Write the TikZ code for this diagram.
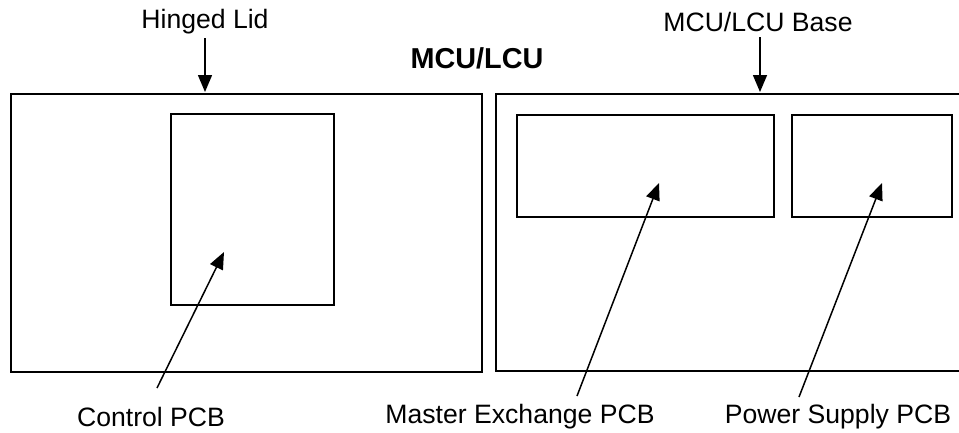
\documentclass[tikz,border=0pt]{standalone}
\usepackage{fontspec}
\setmainfont{Liberation Sans}
\usetikzlibrary{arrows.meta}
\begin{document}
\begin{tikzpicture}[x=1pt,y=-1pt,
  box/.style={draw=black,line width=2.2pt,inner sep=0pt,anchor=north west},
  lbl/.style={font=\fontsize{26.6}{32}\selectfont,inner sep=0pt},
  ttl/.style={font=\fontsize{28.8}{34}\selectfont\bfseries,inner sep=0pt},
  pointer/.style={line width=1.5pt,-{Triangle[width=14pt,length=17pt]}}]
\useasboundingbox (0,0) rectangle (959,432);
\begin{scope}
\clip (0,0) rectangle (959,432);
\node[box,minimum width=471pt,minimum height=278pt] (lid) at (10,93) {};
\node[box,minimum width=470pt,minimum height=277pt] (base) at (495,93) {};
\end{scope}
\node[box,minimum width=163pt,minimum height=191pt] (ctrl) at (170,113) {};
\node[box,minimum width=257pt,minimum height=102pt] (mex) at (516,114) {};
\node[box,minimum width=160pt,minimum height=102pt] (psu) at (791,114) {};
\node[lbl] (hl) at (205,22) {Hinged Lid};
\node[lbl] (bl) at (758,22) {MCU/LCU Base};
\node[ttl] (title) at (477,58) {MCU/LCU};
\node[lbl] (cl) at (151,417) {Control PCB};
\node[lbl] (ml) at (520,417) {Master Exchange PCB};
\node[lbl] (pl) at (838,417) {Power Supply PCB};
\coordinate (hls) at (205,38);
\coordinate (hlt) at (205,92);
\coordinate (bls) at (760,37);
\coordinate (blt) at (760,92);
\coordinate (cls) at (157,388);
\coordinate (clt) at (224,252);
\coordinate (mls) at (577,396);
\coordinate (mlt) at (659,183);
\coordinate (pls) at (799,397);
\coordinate (plt) at (882,183);
\draw[pointer] (hls) -- (hlt);
\draw[pointer] (bls) -- (blt);
\draw[pointer] (cls) -- (clt);
\draw[pointer] (mls) -- (mlt);
\draw[pointer] (pls) -- (plt);
\end{tikzpicture}
\end{document}
